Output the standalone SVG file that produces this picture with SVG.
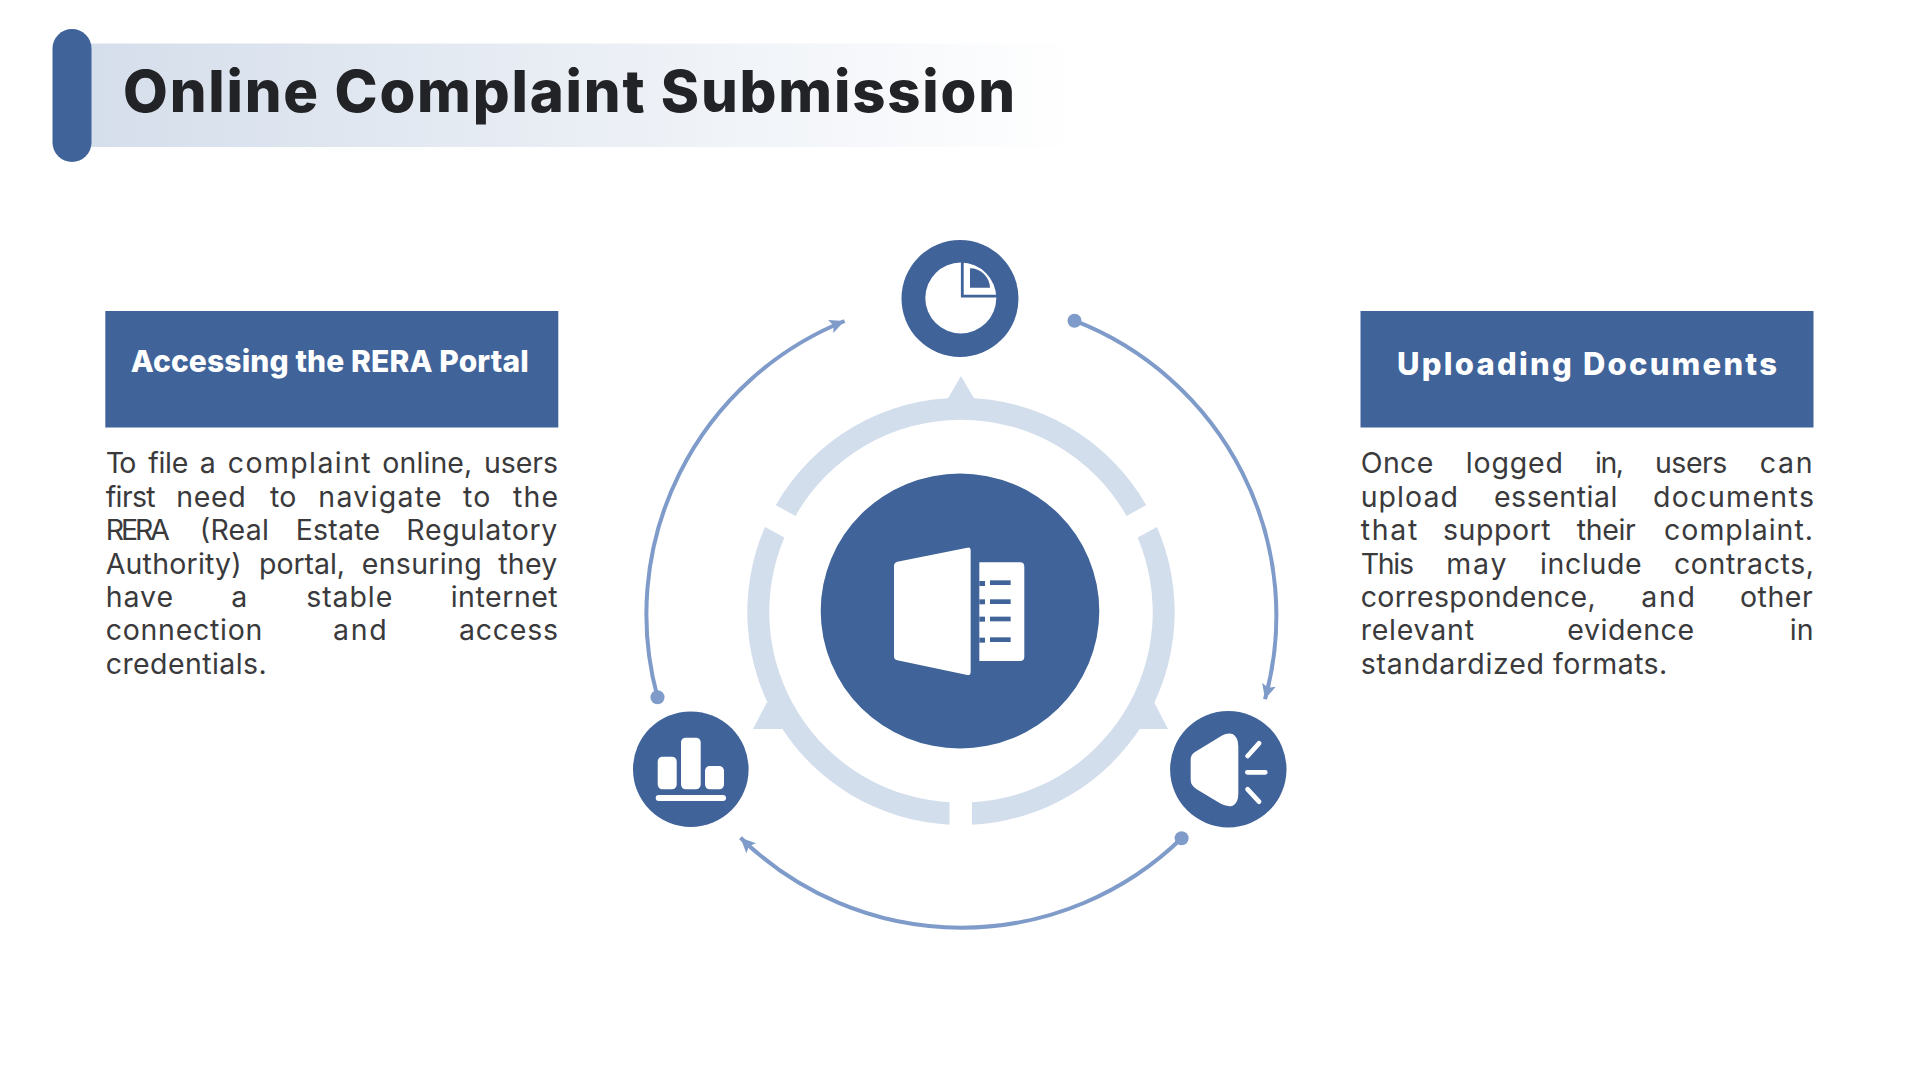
<svg xmlns="http://www.w3.org/2000/svg" width="1920" height="1080" viewBox="0 0 1920 1080">
<style>
.blue{fill:#40639a}
.ring{fill:#d3deed}
.w{fill:#fff}
.arc{fill:none;stroke:#7f9bc9;stroke-width:4;marker-start:url(#dot);marker-end:url(#arrow)}
.title{font:800 58px Inter,"Liberation Sans",sans-serif;fill:#222326}
.head{font:800 30px Inter,"Liberation Sans",sans-serif;fill:#fff}
.body{font:400 28.5px Inter,"Liberation Sans",sans-serif;fill:#3a3a3c}
</style>
<defs>
<linearGradient id="band" x1="0" x2="1" y1="0" y2="0"><stop offset="0" stop-color="#d5deeb"/><stop offset="1" stop-color="#ffffff"/></linearGradient>
<marker id="arrow" markerUnits="userSpaceOnUse" markerWidth="18" markerHeight="16" refX="15" refY="8" orient="auto"><path d="M0,1 L15,8 L0,15 L3,8 Z" fill="#7f9bc9"/></marker>
<marker id="dot" markerUnits="userSpaceOnUse" markerWidth="16" markerHeight="16" refX="8" refY="8"><circle cx="8" cy="8" r="7" fill="#7f9bc9"/></marker>
</defs>
<rect width="1920" height="1080" fill="#fff"/>

<g id="title-banner">
<rect x="91" y="43.5" width="990" height="103.5" fill="url(#band)"/>
<rect class="blue" x="52.5" y="29" width="39" height="133" rx="19.5"/>
<text class="title" x="123" y="112" textLength="892" lengthAdjust="spacing">Online Complaint Submission</text>
</g>

<g id="connectors">
<path class="arc" d="M1074.5,320.7 A316,316 0 0 1 1265,699.3"/>
<path class="arc" d="M1181.6,838.3 A316,316 0 0 1 740.5,837.7"/>
<path class="arc" d="M657.5,697.3 A316,316 0 0 1 844.6,321"/>
</g>

<g id="ring">
<path class="ring" d="M775.7,505.2 A213.5,213.5 0 0 1 1146.3,505.2 L1126.5,515.9 A190.5,190.5 0 0 0 795.5,515.9 Z"/>
<path class="ring" d="M765,527 A213,213 0 0 0 949.5,824.7 L949.5,802.2 A190.5,190.5 0 0 1 784.4,537.6 Z"/>
<path class="ring" d="M1157,527 A213,213 0 0 1 972,824.7 L972,802.2 A190.5,190.5 0 0 0 1137.6,537.6 Z"/>
<polygon class="ring" points="961,376 946.5,401 975.5,401"/>
<polygon class="ring" points="767,702 753,729 787,729"/>
<polygon class="ring" points="1154,702 1168,729 1134,729"/>
</g>

<g id="center-node">
<ellipse class="blue" cx="960" cy="611" rx="139.3" ry="137.5"/>
<g transform="translate(880 530) scale(.3333)">
<path class="w" d="M42,108 Q42,98 52,95 L262,53 Q272,51 272,62 L272,426 Q272,437 262,435 L52,391 Q42,389 42,378 Z"/>
<path class="w" d="M298,97 H420 Q433,97 433,110 V380 Q433,393 420,393 H298 Z"/>
<g class="blue">
<rect x="298" y="153" width="17" height="15"/><rect x="298" y="208" width="17" height="15"/><rect x="298" y="260" width="17" height="15"/><rect x="298" y="323" width="17" height="15"/>
<rect x="330" y="151" width="62" height="14"/><rect x="330" y="208" width="62" height="14"/><rect x="330" y="260" width="62" height="14"/><rect x="330" y="322" width="62" height="14"/>
</g>
</g>
</g>

<g id="node-top">
<circle class="blue" cx="960" cy="298.5" r="58.5"/>
<circle class="w" cx="960.8" cy="298" r="35.5"/>
<path d="M962.3,256 V296.2 H1000" fill="none" stroke="#40639a" stroke-width="2.8"/>
<path class="blue" d="M970,287.7 V268.3 A20,20 0 0 1 990,287.7 Z"/>
</g>

<g id="node-left">
<circle class="blue" cx="690.8" cy="769.2" r="57.8"/>
<rect class="w" x="657.7" y="756.7" width="19" height="32.6" rx="4.7"/>
<rect class="w" x="681" y="737.7" width="19.7" height="51.6" rx="4.7"/>
<rect class="w" x="705" y="766" width="19" height="23.3" rx="4.7"/>
<rect class="w" x="655.7" y="795" width="70.3" height="6" rx="3"/>
</g>

<g id="node-right">
<circle class="blue" cx="1228.3" cy="769.2" r="58.2"/>
<g transform="translate(1170 710) scale(.3333)">
<path class="w" d="M62,148 Q62,135 75,126 L150,80 Q172,66 188,72 Q205,82 205,110 L205,250 Q205,280 188,287 Q172,293 150,280 L80,238 Q62,226 62,210 Z"/>
<path d="M233,138 L267,100 M232,187 H286 M233,238 L267,275" fill="none" stroke="#fff" stroke-width="14" stroke-linecap="round"/>
</g>
</g>

<g id="card-left">
<rect class="blue" x="105.3" y="311" width="453" height="116.5"/>
<text class="head" x="130.7" y="372" textLength="398" lengthAdjust="spacing">Accessing the RERA Portal</text>
<text class="body" transform="translate(-1 0.4)">
<tspan x="106.7" y="472.7" textLength="30.7">To</tspan> <tspan x="149.3" y="472.7" textLength="40">file</tspan> <tspan x="200.7" y="472.7" textLength="16">a</tspan> <tspan x="228.7" y="472.7" textLength="143">complaint</tspan> <tspan x="383.3" y="472.7" textLength="90">online,</tspan> <tspan x="485" y="472.7" textLength="74">users</tspan>
<tspan x="106.7" y="506.7" textLength="50">first</tspan> <tspan x="177.3" y="506.7" textLength="69.3">need</tspan> <tspan x="271" y="506.7" textLength="26.3">to</tspan> <tspan x="319.3" y="506.7" textLength="123.3">navigate</tspan> <tspan x="464" y="506.7" textLength="27.3">to</tspan> <tspan x="514" y="506.7" textLength="45">the</tspan>
<tspan x="106.7" y="540" textLength="64.3">RERA</tspan> <tspan x="200.7" y="540" textLength="69.3">(Real</tspan> <tspan x="296.7" y="540" textLength="84.3">Estate</tspan> <tspan x="407.3" y="540" textLength="151">Regulatory</tspan>
<tspan x="106.7" y="573.3" textLength="136">Authority)</tspan> <tspan x="260" y="573.3" textLength="86">portal,</tspan> <tspan x="362.7" y="573.3" textLength="120">ensuring</tspan> <tspan x="499.3" y="573.3" textLength="59">they</tspan>
<tspan x="106.7" y="606.7" textLength="67.3">have</tspan> <tspan x="232.3" y="606.7" textLength="17">a</tspan> <tspan x="307.3" y="606.7" textLength="86">stable</tspan> <tspan x="451.7" y="606.7" textLength="107">internet</tspan>
<tspan x="106.7" y="640" textLength="156.7">connection</tspan> <tspan x="334" y="640" textLength="53.7">and</tspan> <tspan x="460" y="640" textLength="99">access</tspan>
<tspan x="106.7" y="674" textLength="161">credentials.</tspan>
</text>
</g>

<g id="card-right">
<rect class="blue" x="1360.5" y="311" width="453" height="116.5"/>
<text class="head" style="font-size:31px" x="1397" y="374.5" textLength="380" lengthAdjust="spacing">Uploading Documents</text>
<text class="body" transform="translate(-1 0.4)">
<tspan x="1361.7" y="472.7" textLength="72.7">Once</tspan> <tspan x="1466.7" y="472.7" textLength="97.3">logged</tspan> <tspan x="1596" y="472.7" textLength="29">in,</tspan> <tspan x="1656" y="472.7" textLength="72.3">users</tspan> <tspan x="1760.7" y="472.7" textLength="53">can</tspan>
<tspan x="1361.7" y="506.7" textLength="97.3">upload</tspan> <tspan x="1495" y="506.7" textLength="123.3">essential</tspan> <tspan x="1654" y="506.7" textLength="161">documents</tspan>
<tspan x="1361.7" y="540" textLength="56.7">that</tspan> <tspan x="1444" y="540" textLength="107.7">support</tspan> <tspan x="1577.7" y="540" textLength="59">their</tspan> <tspan x="1665" y="540" textLength="149">complaint.</tspan>
<tspan x="1361.7" y="573.3" textLength="53.3">This</tspan> <tspan x="1447.3" y="573.3" textLength="60.3">may</tspan> <tspan x="1541" y="573.3" textLength="101.7">include</tspan> <tspan x="1675" y="573.3" textLength="140">contracts,</tspan>
<tspan x="1361.7" y="606.7" textLength="235">correspondence,</tspan> <tspan x="1642.3" y="606.7" textLength="53.7">and</tspan> <tspan x="1741" y="606.7" textLength="72.7">other</tspan>
<tspan x="1361.7" y="640" textLength="113.3">relevant</tspan> <tspan x="1568.3" y="640" textLength="126.7">evidence</tspan> <tspan x="1790.7" y="640" textLength="24">in</tspan>
<tspan x="1361.7" y="674" textLength="183.3">standardized</tspan> <tspan x="1554" y="674" textLength="114.3">formats.</tspan>
</text>
</g>
</svg>
